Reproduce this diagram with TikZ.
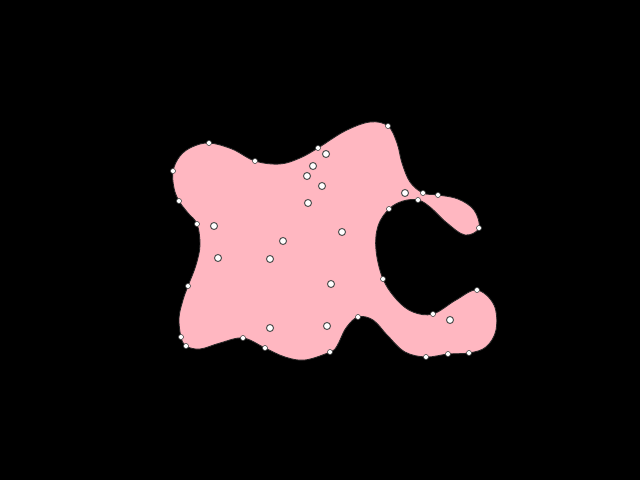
\documentclass[tikz,border=0pt]{standalone}
\definecolor{blobpink}{RGB}{255,183,193}
\begin{document}
\begin{tikzpicture}[x=0.025cm, y=-0.025cm,
          bpt/.style={circle, draw=black!75, fill=white, line width=0.4pt, inner sep=0pt, minimum size=3.6pt},
          ipt/.style={circle, draw=black!70, fill=white, line width=0.7pt, inner sep=0pt, minimum size=5pt}]
        \fill[black] (0,0) rectangle (640,480);
        \useasboundingbox (0,0) rectangle (640,480);
        % outline of the blob, clockwise from the top left
        \filldraw[fill=blobpink, draw=black!85, line width=0.6pt] plot[smooth cycle, tension=0.6] coordinates {
          (173,171) (180,156) (192,147) (209,143) (232,149) (255,161) (280,164) (300,158)
          (318,148) (345,131) (370,122) (388,126) (397,143) (402,163) (410,182) (423,193)
          (438,195) (458,199) (474,210) (479,228) (465,235) (447,223) (430,207) (418,200)
          (403,201) (389,209) (378,226) (376,250) (383,279) (397,300) (413,312) (433,314)
          (456,300) (477,290) (494,305) (496,330) (486,347) (469,353) (448,354) (426,357)
          (405,352) (388,336) (373,320) (358,317) (346,328) (337,346) (330,352) (305,360)
          (285,357) (265,348) (243,338) (220,343) (200,349) (186,346) (181,337) (179,318)
          (183,300) (188,286) (196,265) (200,245) (197,224) (188,213) (179,201) (174,188)};
        % samples on the outline
        \foreach \x/\y [count=\i] in {173/171, 209/143, 255/161, 318/148, 388/126, 423/193,
            438/195, 479/228, 418/200, 389/209, 383/279, 433/314, 477/290, 469/353, 448/354,
            426/357, 358/317, 330/352, 265/348, 243/338, 186/346, 181/337, 188/286, 197/224, 179/201}
          \node[bpt] (b\i) at (\x,\y) {};
        % samples inside
        \foreach \x/\y [count=\i] in {326/154, 313/166, 307/176, 322/186, 308/203, 214/226,
            283/241, 342/232, 218/258, 270/259, 331/284, 270/328, 327/326, 405/193, 450/320}
          \node[ipt] (p\i) at (\x,\y) {};
      \end{tikzpicture}
\end{document}
